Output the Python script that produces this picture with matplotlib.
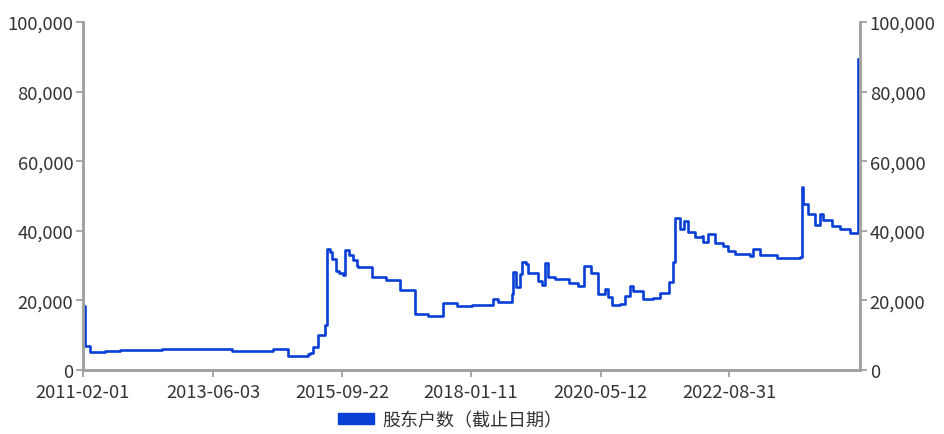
import pandas as pd
import matplotlib
matplotlib.use("Agg")
import matplotlib.pyplot as plt
from matplotlib.ticker import FuncFormatter
from matplotlib.patches import Patch

plt.rcParams['font.family'] = ['Noto Sans CJK SC', 'DejaVu Sans']

# shareholder count by report date
DATES = [
    "2011-02-01", "2011-02-12", "2011-03-18", "2011-06-25", "2011-10-01",
    "2012-01-15", "2012-04-10", "2012-07-01", "2013-01-01", "2013-04-05",
    "2013-07-01", "2013-10-01", "2014-01-01", "2014-03-31", "2014-06-27",
    "2014-10-03", "2015-01-05", "2015-02-10", "2015-02-25", "2015-03-20",
    "2015-04-16", "2015-06-03", "2015-06-14", "2015-07-06", "2015-07-17",
    "2015-08-13", "2015-09-01", "2015-09-28", "2015-10-13", "2015-11-07",
    "2015-12-03", "2015-12-28", "2016-01-04", "2016-04-05", "2016-07-05",
    "2016-10-05", "2017-01-12", "2017-04-05", "2017-07-13", "2017-10-12",
    "2018-01-20", "2018-06-07", "2018-07-10", "2018-10-08", "2018-10-12",
    "2018-11-03", "2018-11-28", "2018-12-16", "2019-01-11", "2019-01-19",
    "2019-03-26", "2019-04-20", "2019-05-12", "2019-05-30", "2019-07-17",
    "2019-10-16", "2019-12-13", "2020-01-23", "2020-03-07", "2020-04-24",
    "2020-06-07", "2020-06-29", "2020-07-24", "2020-09-13", "2020-10-16",
    "2020-11-18", "2020-12-06", "2021-02-10", "2021-04-17", "2021-06-03",
    "2021-07-31", "2021-08-25", "2021-09-07", "2021-09-27", "2021-10-10",
    "2021-11-10", "2021-12-02", "2022-01-15", "2022-03-04", "2022-03-11",
    "2022-04-13", "2022-05-27", "2022-07-17", "2022-08-20", "2022-10-05",
    "2023-01-11", "2023-01-30", "2023-03-18", "2023-07-06", "2023-12-03",
    "2023-12-17", "2023-12-24", "2024-01-26", "2024-03-10", "2024-04-12",
    "2024-05-04", "2024-07-05", "2024-08-22", "2024-10-27", "2024-12-17",
]
HOLDERS = [
    18300, 6900, 5200, 5550, 5800,
    5700, 5800, 6000, 5950, 6100,
    5900, 5550, 5400, 5350, 5900,
    3950, 4100, 4500, 5000, 6600,
    10000, 12900, 34700, 33800, 31800,
    28400, 27800, 27200, 34400, 33000,
    31500, 29800, 29500, 26600, 25800,
    22900, 16000, 15500, 19200, 18300,
    18600, 20300, 19500, 21800, 28100,
    24000, 27500, 30900, 30400, 27800,
    25500, 24400, 30700, 26600, 26100,
    24900, 24100, 29800, 27800, 21800,
    23200, 20900, 18600, 18900, 21200,
    24100, 22600, 20300, 20600, 22100,
    25200, 30900, 43600, 43800, 40400,
    42700, 39800, 38100, 38400, 36700,
    39000, 36400, 35500, 34300, 33200,
    32700, 34700, 33000, 32100, 32400,
    52700, 47600, 44700, 41800, 44700,
    43000, 41300, 40400, 39500, 89500,
]
TICK_DATES = ["2011-02-01", "2013-06-03", "2015-09-22",
              "2018-01-11", "2020-05-12", "2022-08-31"]
X_END = "2025-01-01"
SERIES_NAME = "股东户数（截止日期）"

LINE_COLOR = "#0a3fd6"
AXIS_COLOR = "#a0a0a0"
TEXT_COLOR = "#333333"

dates = pd.to_datetime(DATES)

fig = plt.figure(figsize=(9.45, 4.35), dpi=100)
ax = fig.add_axes([0.0878, 0.1471, 0.8222, 0.7999])
ax.plot(dates, HOLDERS, drawstyle="steps-post", color=LINE_COLOR, lw=1.9)

ax.set_xlim(pd.Timestamp(TICK_DATES[0]), pd.Timestamp(X_END))
ax.set_ylim(0, 100000)
ax.set_yticks(range(0, 100001, 20000))
ax.yaxis.set_major_formatter(FuncFormatter(lambda v, p: f"{int(v):,}"))
ax.set_xticks(pd.to_datetime(TICK_DATES))
ax.set_xticklabels(TICK_DATES)

ax2 = ax.twinx()
ax2.set_ylim(0, 100000)
ax2.set_yticks(range(0, 100001, 20000))
ax2.yaxis.set_major_formatter(FuncFormatter(lambda v, p: f"{int(v):,}"))

for a in (ax, ax2):
    a.spines["top"].set_visible(False)
    for s in ("left", "right", "bottom"):
        a.spines[s].set_color(AXIS_COLOR)
        a.spines[s].set_linewidth(1.8)
    a.tick_params(colors=AXIS_COLOR, labelcolor=TEXT_COLOR, labelsize=13.2,
                  length=5, width=1.3, pad=2)
ax.tick_params(axis="x", pad=4)

leg = fig.legend(handles=[Patch(color=LINE_COLOR)], labels=[SERIES_NAME],
                 loc="center", bbox_to_anchor=(0.476, 0.032), frameon=False,
                 fontsize=13, handlelength=2.0, handleheight=0.6,
                 handletextpad=0.45)
for t in leg.get_texts():
    t.set_color(TEXT_COLOR)

fig.savefig("out.png", dpi=100)
